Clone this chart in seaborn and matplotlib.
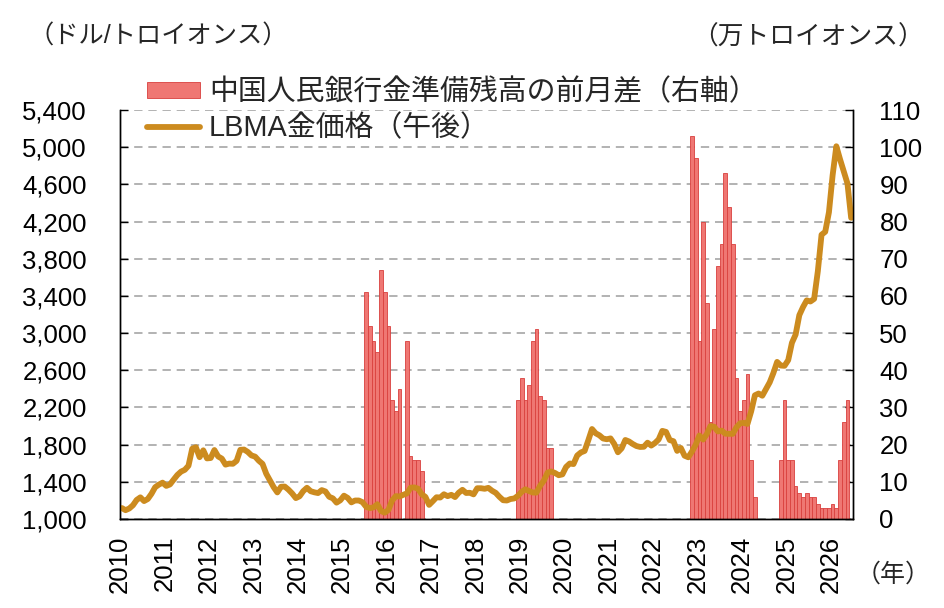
import numpy as np
import pandas as pd
import seaborn as sns
import matplotlib.pyplot as plt

# 月次データ（2010年1月〜2026年6月）
months = pd.date_range("2010-01-01", "2026-06-01", freq="MS")
years = list(range(2010, 2027))

# LBMA金価格（午後、月平均、ドル/トロイオンス）
gold_price = [
    1118, 1095, 1113, 1148, 1205, 1233, 1193, 1215, 1271, 1342, 1370, 1391,  # 2010
    1356, 1372, 1424, 1474, 1510, 1529, 1573, 1756, 1772, 1665, 1739, 1652,  # 2011
    1656, 1742, 1673, 1650, 1585, 1596, 1594, 1626, 1744, 1747, 1722, 1684,  # 2012
    1671, 1627, 1593, 1487, 1414, 1343, 1286, 1347, 1349, 1316, 1275, 1225,  # 2013
    1244, 1300, 1336, 1299, 1287, 1279, 1311, 1296, 1239, 1222, 1176, 1201,  # 2014
    1251, 1227, 1179, 1199, 1199, 1181, 1131, 1117, 1125, 1159, 1086, 1068,  # 2015
    1097, 1199, 1246, 1242, 1260, 1276, 1337, 1340, 1326, 1266, 1238, 1152,  # 2016
    1192, 1234, 1231, 1266, 1246, 1260, 1236, 1283, 1314, 1280, 1282, 1265,  # 2017
    1331, 1331, 1325, 1335, 1304, 1281, 1238, 1202, 1199, 1215, 1221, 1250,  # 2018
    1292, 1320, 1300, 1285, 1284, 1359, 1413, 1500, 1511, 1495, 1471, 1480,  # 2019
    1560, 1597, 1591, 1683, 1716, 1732, 1847, 1968, 1922, 1900, 1866, 1858,  # 2020
    1867, 1808, 1718, 1760, 1850, 1834, 1807, 1785, 1775, 1777, 1821, 1790,  # 2021
    1817, 1856, 1948, 1937, 1849, 1837, 1733, 1764, 1681, 1664, 1726, 1798,  # 2022
    1898, 1855, 1913, 2000, 1992, 1942, 1951, 1918, 1916, 1916, 1985, 2030,  # 2023
    2034, 2023, 2159, 2331, 2350, 2326, 2399, 2470, 2571, 2690, 2651, 2648,  # 2024
    2709, 2895, 2984, 3193, 3280, 3352, 3340, 3368, 3665, 4058, 4090, 4300,  # 2025
    4700, 5010, 4870, 4740, 4610, 4240,                                      # 2026
]

# 中国人民銀行金準備残高の前月差（万トロイオンス）：開始月と値
pboc_2015_start, pboc_2015 = "2015-07", [61, 52, 48, 45, 67, 61, 52, 32, 29, 35, 0, 48, 17, 16, 16, 13]
pboc_2018_start, pboc_2018 = "2018-12", [32, 38, 32, 36, 48, 51, 33, 32, 19, 19]
pboc_2022_start, pboc_2022 = "2022-11", [103, 97, 48, 80, 58, 26, 51, 68, 74, 93, 84, 74, 38, 29, 32, 39, 16, 6]
pboc_2024_start, pboc_2024 = "2024-11", [16, 32, 16, 16, 9, 7, 6, 7, 6, 6, 4, 3, 3, 3, 4, 3, 16, 26, 32]

# 月 -> x位置（各月の中央）
xpos = np.arange(len(months)) + 0.5
pboc = pd.Series(0.0, index=months)
for start, vals in [(pboc_2015_start, pboc_2015), (pboc_2018_start, pboc_2018),
                    (pboc_2022_start, pboc_2022), (pboc_2024_start, pboc_2024)]:
    idx = pd.date_range(start, periods=len(vals), freq="MS")
    pboc[idx] = vals
bar_df = pd.DataFrame({"x": xpos, "value": pboc.values})
bar_df = bar_df[bar_df["value"] > 0]

sns.set_style("white")
plt.rcParams["font.family"] = ["Liberation Sans", "Noto Sans CJK JP"]

fig = plt.figure(figsize=(9.45, 6.08), dpi=100)
ax = fig.add_axes([120 / 945, 1 - 519 / 608, (853 - 120) / 945, (519 - 110) / 608])
ax2 = ax.twinx()

# 棒（右軸）
sns.barplot(data=bar_df, x="x", y="value", native_scale=True, width=1.0,
            color="#EF7773", edgecolor="#D9403E", linewidth=0.6, saturation=1, ax=ax2)
# 折れ線（左軸）
sns.lineplot(x=xpos, y=gold_price, ax=ax, color="#CC8B1F", linewidth=4.2)

ax.set_zorder(ax2.get_zorder() + 1)
ax.patch.set_visible(False)

ax.set_xlim(0, len(months))
ax.set_ylim(1000, 5400)
ax2.set_ylim(0, 110)

ax2.yaxis.grid(True, linestyle=(0, (5, 3.5)), color="#A6A6A6", linewidth=1.2)
ax2.xaxis.grid(False)
ax.grid(False)
ax2.set_axisbelow(True)

ax.set_yticks(range(1000, 5401, 400))
ax.set_yticklabels([f"{v:,}" for v in range(1000, 5401, 400)])
ax2.set_yticks(range(0, 111, 10))
ax.set_xticks([12 * i for i in range(len(years))])
ax.set_xticklabels([str(y) for y in years], rotation=90)

ax.tick_params(axis="y", direction="in", length=6, width=1, labelsize=18.5, pad=24, colors="black")
ax.tick_params(axis="x", direction="in", length=6, width=1, labelsize=18.5, pad=12, colors="black")
ax2.tick_params(axis="y", direction="in", length=6, width=1, labelsize=18.5, pad=19, colors="black")

for a in (ax, ax2):
    a.set_xlabel("")
    a.set_ylabel("")
    a.spines["top"].set_visible(False)
    for s in a.spines.values():
        s.set_color("black")
        s.set_linewidth(1.0)

fig.text(28 / 945, 1 - 37 / 608, "（ドル/トロイオンス）", fontsize=18.2, ha="left", va="center")
fig.text(924 / 945, 1 - 37 / 608, "（万トロイオンス）", fontsize=18.5, ha="right", va="center")
fig.text(893 / 945, 1 - 575 / 608, "（年）", fontsize=18, ha="center", va="center")

handles = [ax2.patches[0], ax.get_lines()[0]]
labels = ["中国人民銀行金準備残高の前月差（右軸）", "LBMA金価格（午後）"]
fig.legend(handles, labels, loc="upper left", bbox_to_anchor=(147 / 945, 1 - 78 / 608),
           frameon=False, fontsize=20.8, handlelength=1.85, handleheight=0.5,
           handletextpad=0.3, labelspacing=0.3, borderpad=0, borderaxespad=0)

plt.savefig("out.png", dpi=100)
